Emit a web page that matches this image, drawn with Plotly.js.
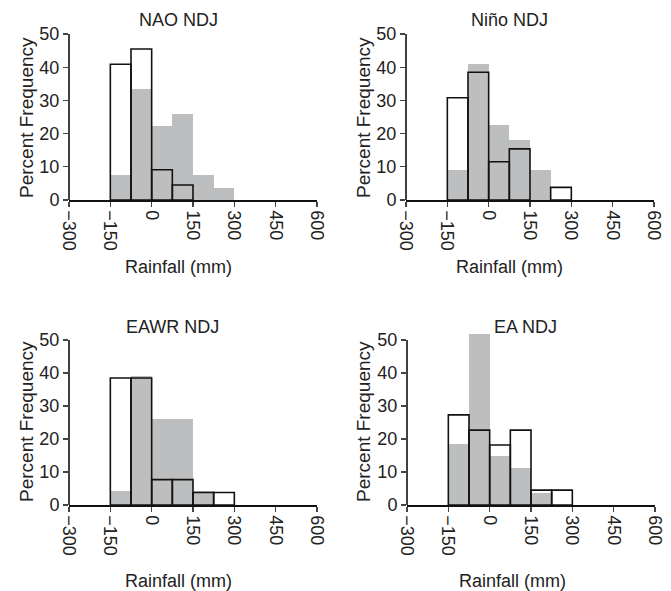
<!DOCTYPE html>
<html><head><meta charset="utf-8">
<script src="https://cdn.plot.ly/plotly-3.0.1.min.js"></script>
<style>html,body{margin:0;padding:0;background:#fff}#c{width:671px;height:591px}</style>
</head><body><div id="c"></div>
<script>
// Bin centres (mm), bins 75 mm wide from -150 to 300
const binCenters = [-112.5, -37.5, 37.5, 112.5, 187.5, 262.5];
const binWidth = 75;
const panelTitles = ["NAO NDJ", "Niño NDJ", "EAWR NDJ", "EA NDJ"];
// Gray filled histograms (percent frequency)
const grayNAO  = [7.4, 33.3, 22.2, 25.9, 7.4, 3.7];
const grayNino = [9.1, 40.9, 22.7, 18.2, 9.1, 0];
const grayEAWR = [4.3, 39.1, 26.1, 26.1, 4.3, 0];
const grayEA   = [18.5, 51.9, 14.8, 11.1, 3.7, 0];
// Outlined (white) histograms (percent frequency)
const openNAO  = [40.9, 45.5, 9.1, 4.5, 0, 0];
const openNino = [30.8, 38.5, 11.5, 15.4, 0, 3.8];
const openEAWR = [38.5, 38.5, 7.7, 7.7, 3.8, 3.8];
const openEA   = [27.3, 22.7, 18.2, 22.7, 4.5, 4.5];
const xTicks = [-300, -150, 0, 150, 300, 450, 600];
const yTicks = [0, 10, 20, 30, 40, 50];

const grays = [grayNAO, grayNino, grayEAWR, grayEA];
const opens = [openNAO, openNino, openEAWR, openEA];
const FONT = "Liberation Sans, Arial, Helvetica, sans-serif";
const FS = 18;
const W = 671, H = 591;
const xDom = [[69/W, 317/W], [406/W, 654/W], [69/W, 317/W], [407/W, 655/W]];
// pixel rows: [y of 0, y of 50]
const yPix = [[200, 34], [200, 34], [505, 340], [505, 340]];
const yTop = 52.5; // headroom so the tallest bar is not clipped

const traces = [];
const layout = {
  width: W, height: H, margin: {l:0, r:0, t:0, b:0},
  paper_bgcolor: "#fff", plot_bgcolor: "#fff",
  barmode: "overlay", bargap: 0, showlegend: false,
  font: {family: FONT, size: FS, color: "#222"},
  annotations: [], shapes: []
};
const nz = a => a.map(v => v > 0 ? v : null);
for (let i = 0; i < 4; i++) {
  const s = i === 0 ? "" : String(i+1);
  const xa = "x"+s, ya = "y"+s;
  traces.push({type:"bar", x:binCenters, y:nz(opens[i]), width:binWidth, xaxis:xa, yaxis:ya,
    marker:{color:"#ffffff", line:{width:0}}, hoverinfo:"skip"});
  traces.push({type:"bar", x:binCenters, y:nz(grays[i]), width:binWidth, xaxis:xa, yaxis:ya,
    marker:{color:"#bdbebf", line:{width:0}}, hoverinfo:"skip"});
  traces.push({type:"bar", x:binCenters, y:nz(opens[i]), width:binWidth, xaxis:xa, yaxis:ya,
    marker:{color:"rgba(0,0,0,0)", line:{width:1.6, color:"#111"}}, hoverinfo:"skip"});
  const [p0, p50] = yPix[i];
  const pTop = p0 - (p0 - p50) * yTop / 50;
  layout["xaxis"+s] = {domain:xDom[i], anchor:ya, range:[-300,600], tickvals:xTicks,
    ticktext: xTicks.map(v => v<0 ? "\u2212"+Math.abs(v) : String(v)),
    tickangle:90, ticks:"outside", ticklen:5, tickwidth:1.3, showline:true, linewidth:1.6,
    linecolor:"#111", showgrid:false, zeroline:false, tickfont:{size:FS, color:"#222"}, fixedrange:true};
  layout["yaxis"+s] = {domain:[1-p0/H, 1-pTop/H], anchor:xa, range:[0,yTop], tickvals:yTicks,
    ticks:"outside", ticklen:5, tickwidth:1.3, showline:false,
    showgrid:false, zeroline:false, tickfont:{size:FS, color:"#222"}, fixedrange:true};
  layout.shapes.push({type:"line", xref:xa+" domain", yref:ya, x0:0, x1:0, y0:0, y1:50,
    line:{color:"#111", width:1.6}});
  const top = i < 2;
  const cx = [178, 510, 172, 525][i];
  const ty = top ? 20 : 327;
  layout.annotations.push({text:panelTitles[i], x:cx/W, y:1-ty/H, xref:"paper", yref:"paper",
    showarrow:false, xanchor:"center", yanchor:"middle", font:{size:FS, color:"#222"}});
  const rx = [178, 510, 178, 512][i];
  const ry = top ? 267 : 581;
  layout.annotations.push({text:"Rainfall (mm)", x:rx/W, y:1-ry/H, xref:"paper", yref:"paper",
    showarrow:false, xanchor:"center", yanchor:"middle", font:{size:FS, color:"#222"}});
  const px = i % 2 === 0 ? 26 : 363;
  const py = top ? 118 : 422;
  layout.annotations.push({text:"Percent Frequency", x:px/W, y:1-py/H, xref:"paper", yref:"paper",
    showarrow:false, textangle:-90, xanchor:"center", yanchor:"middle", font:{size:FS+1, color:"#222"}});
}
Plotly.newPlot("c", traces, layout, {staticPlot:true});
</script></body></html>
